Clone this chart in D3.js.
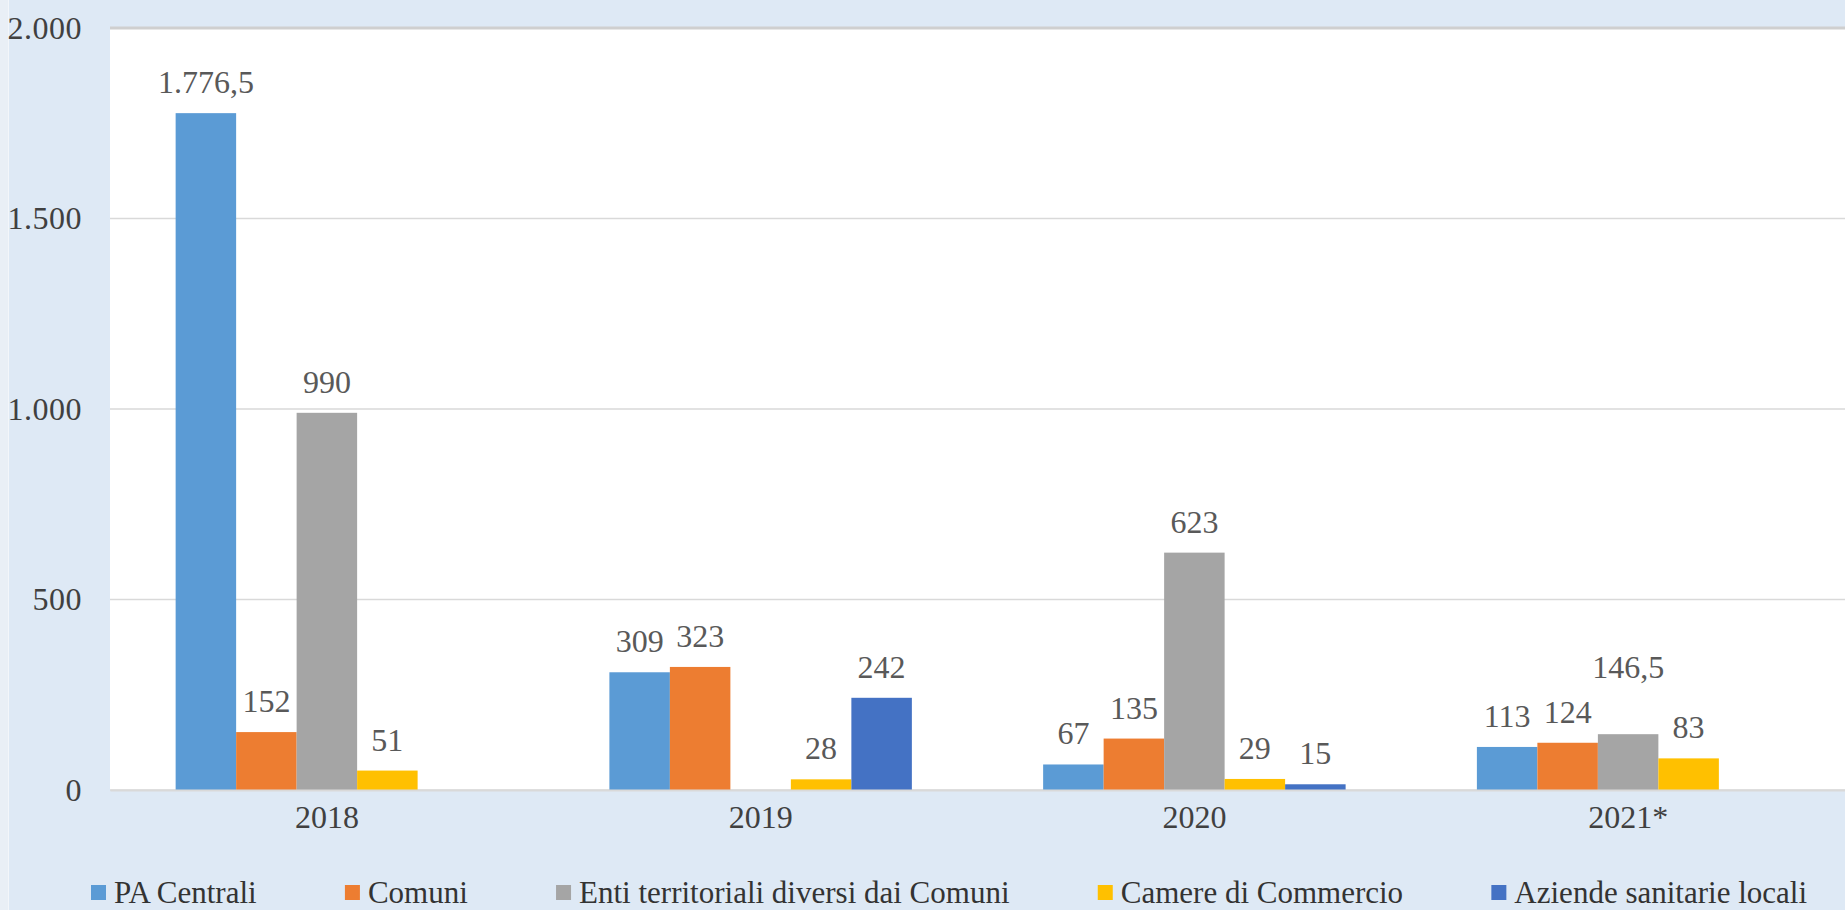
<!DOCTYPE html>
<html>
<head>
<meta charset="utf-8">
<script src="https://cdn.jsdelivr.net/npm/d3@7"></script>
<style>
  body { margin: 0; background: #dee9f5; }
  svg { display: block; }
  text { font-family: 'Liberation Serif', 'Times New Roman', serif; }
</style>
</head>
<body>
<div id="chart-area"></div>
<script>
// Data
var years = ['2018', '2019', '2020', '2021*']
var seriesNames = ['PA Centrali', 'Comuni', 'Enti territoriali diversi dai Comuni', 'Camere di Commercio', 'Aziende sanitarie locali']
var paCentrali = [1776.5, 309, 67, 113]
var comuni = [152, 323, 135, 124]
var entiTerritoriali = [990, null, 623, 146.5]
var camereCommercio = [51, 28, 29, 83]
var aziendeSanitarie = [null, 242, 15, null]
var yTicks = [0, 500, 1000, 1500, 2000]
var colors = ['#5b9bd5', '#ed7d31', '#a5a5a5', '#ffc000', '#4472c4']

var seriesValues = [paCentrali, comuni, entiTerritoriali, camereCommercio, aziendeSanitarie]

var W = 1845, H = 910
var margin = { left: 110, right: 0, top: 28, bottom: 120 }
var width = W - margin.left - margin.right
var height = H - margin.top - margin.bottom

var it = d3.formatLocale({ decimal: ',', thousands: '.', grouping: [3], currency: ['€', ''] })
var fmt = it.format(',.1~f')

var svg = d3.select('#chart-area')
    .append('svg')
        .attr('width', W)
        .attr('height', H)

svg.append('rect')
    .attr('width', W).attr('height', H)
    .attr('fill', '#dee9f5')

// thin strip on the left edge
svg.append('rect')
    .attr('width', 8).attr('height', H)
    .attr('fill', '#e9eff6')
svg.append('line')
    .attr('x1', 8.5).attr('x2', 8.5).attr('y1', 0).attr('y2', H)
    .attr('stroke', '#f3f6fa').attr('stroke-width', 1)

var g = svg.append('g')
    .attr('transform', `translate(${margin.left}, ${margin.top})`)

g.append('rect')
    .attr('width', width).attr('height', height)
    .attr('fill', '#ffffff')

// Scales
var x0 = d3.scaleBand()
    .domain(years)
    .range([0, width])
    .padding(0)

var x1 = d3.scaleBand()
    .domain(seriesNames)
    .range([0, x0.bandwidth()])
    .paddingInner(0)
    .paddingOuter(1.085)

var y = d3.scaleLinear()
    .domain([0, 2000])
    .range([height, 0])

// Gridlines
g.append('g')
    .selectAll('line')
    .data(yTicks)
    .enter().append('line')
        .attr('x1', 0).attr('x2', width)
        .attr('y1', d => y(d)).attr('y2', d => y(d))
        .attr('stroke', d => d === 2000 ? '#cfcfcf' : '#d9d9d9')
        .attr('stroke-width', d => d === 2000 ? 3 : 1.5)

// Y axis labels
var yAxisGroup = svg.append('g')
    .attr('transform', `translate(${margin.left}, ${margin.top})`)
    .call(d3.axisLeft(y).tickValues(yTicks).tickSize(0).tickPadding(28).tickFormat(d => it.format(',d')(d)))
yAxisGroup.select('.domain').remove()
yAxisGroup.selectAll('text')
    .attr('font-family', "'Liberation Serif', serif")
    .attr('font-size', '32px')
    .attr('letter-spacing', '0.5px')
    .attr('fill', '#404040')

// Bars
var groups = g.selectAll('.year')
    .data(years)
    .enter().append('g')
        .attr('class', 'year')
        .attr('transform', d => `translate(${x0(d)}, 0)`)

var cells = groups.selectAll('.cell')
    .data((d, i) => seriesNames.map((s, j) => ({ year: d, series: s, value: seriesValues[j][i], color: colors[j] }))
        .filter(c => c.value !== null))
    .enter().append('g')
        .attr('class', 'cell')

cells.append('rect')
    .attr('x', d => x1(d.series))
    .attr('width', x1.bandwidth())
    .attr('y', d => y(d.value))
    .attr('height', d => height - y(d.value))
    .attr('fill', d => d.color)

// the 2021 "Enti" label is pushed up to clear its neighbours
cells.append('text')
    .attr('x', d => x1(d.series) + x1.bandwidth() / 2)
    .attr('y', d => y(d.value) - 20 - (d.year === '2021*' && d.series === seriesNames[2] ? 36 : 0))
    .attr('text-anchor', 'middle')
    .attr('font-size', '32px')
    .attr('fill', '#595959')
    .text(d => fmt(d.value))

// X axis
var xAxisGroup = g.append('g')
    .attr('transform', `translate(0, ${height})`)
    .call(d3.axisBottom(x0).tickSize(0).tickPadding(15))
xAxisGroup.select('.domain')
    .attr('stroke', '#d9d9d9')
    .attr('stroke-width', 2)
xAxisGroup.selectAll('text')
    .attr('font-family', "'Liberation Serif', serif")
    .attr('font-size', '32px')
    .attr('fill', '#404040')

// Legend
var legend = svg.append('g')
    .attr('transform', 'translate(0, 892)')

var items = legend.selectAll('.item')
    .data(seriesNames)
    .enter().append('g')
        .attr('class', 'item')

items.append('rect')
    .attr('y', -7).attr('width', 15).attr('height', 15)
    .attr('fill', (d, i) => colors[i])

items.append('text')
    .attr('x', 23)
    .attr('dy', '0.35em')
    .attr('font-size', '31px')
    .attr('fill', '#333333')
    .text(d => d)

var widths = []
items.select('text').each(function() { widths.push(this.getComputedTextLength() + 23) })
var legendStart = 91, legendEnd = 1807
var gap = (legendEnd - legendStart - d3.sum(widths)) / (widths.length - 1)
var pos = legendStart
items.attr('transform', (d, i) => {
    var p = pos
    pos += widths[i] + gap
    return `translate(${p}, 0)`
})
</script>
</body>
</html>
